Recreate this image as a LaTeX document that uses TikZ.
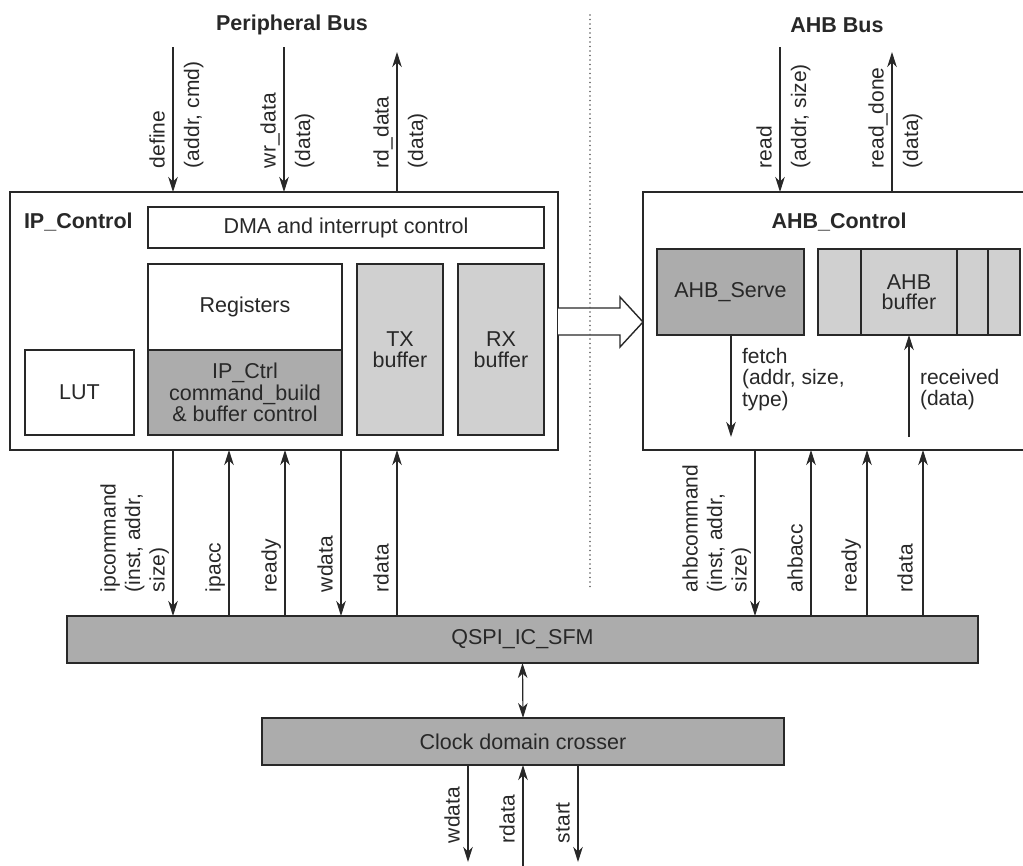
\documentclass[tikz,border=0pt]{standalone}
\usepackage{fontspec}
\setmainfont{Liberation Sans}
\usetikzlibrary{arrows.meta}
\definecolor{darkfill}{RGB}{172,172,172}
\definecolor{lightfill}{RGB}{208,208,208}
\definecolor{linecol}{RGB}{40,40,40}
\newcommand\myfs{\fontsize{21.5}{22.5}\selectfont}
\newcommand\rotfs{\fontsize{21}{24.5}\selectfont}
\newcommand\sigfs{\fontsize{21}{21.5}\selectfont}
\begin{document}
\begin{tikzpicture}[x=1pt,y=-1pt,
  every node/.style={inner sep=0pt, outer sep=0pt, font=\myfs, text=linecol},
  blk/.style={draw=linecol, line width=1.4pt, anchor=north west, align=center},
  darkblk/.style={blk, fill=darkfill},
  lightblk/.style={blk, fill=lightfill},
  tip/.tip={Stealth[length=15pt,width=9.5pt,inset=4.5pt]},
  sig/.style={line width=1.2pt, draw=linecol, -tip},
  sigboth/.style={line width=1.2pt, draw=linecol, tip-tip},
  lblL/.style={rotate=90, anchor=south west, align=left, font=\rotfs},
  lblR/.style={rotate=90, anchor=north west, align=left, font=\rotfs},
  ttl/.style={font=\myfs\bfseries},
  sub/.style={anchor=north west, align=left, font=\sigfs}
]
\useasboundingbox (0,0) rectangle (1023,865);
\fill[white] (0,0) rectangle (1023,865);

% titles
\node[ttl] (pbus) at (292,25) {Peripheral Bus};
\node[ttl] (abus) at (837,25) {AHB Bus};

% separator
\coordinate (sepT) at (590,15);
\coordinate (sepB) at (590,590);

% IP control block
\node[blk, minimum width=548, minimum height=258] (ip) at (10,192) {};
\node[ttl, anchor=west] (iptitle) at (24,222) {IP\_Control};
\node[blk, minimum width=396, minimum height=41] (dma) at (148,207) {DMA and interrupt control};
\node[blk, minimum width=194, minimum height=86] (reg) at (148,264) {Registers};
\node[darkblk, minimum width=194, minimum height=85] (ipctrl) at (148,350) {IP\_Ctrl\\[-1pt]command\_build\\[-1pt]\& buffer control};
\node[lightblk, minimum width=86, minimum height=171] (tx) at (357,264) {TX\\[-2pt]buffer};
\node[lightblk, minimum width=86, minimum height=171] (rx) at (458,264) {RX\\[-2pt]buffer};
\node[blk, minimum width=109, minimum height=85] (lut) at (25,350) {LUT};

% AHB control block (right side runs off the picture)
\node[anchor=north west, minimum width=380, minimum height=258] (ahb) at (643,192) {};
\draw[draw=linecol, line width=1.4pt] (ahb.north east) -- (ahb.north west) -- (ahb.south west) -- (ahb.south east);
\node[ttl] (ahbtitle) at (839,222) {AHB\_Control};
\node[darkblk, minimum width=147, minimum height=86] (serve) at (657,249) {AHB\_Serve};
\node[lightblk, minimum width=202, minimum height=86] (buf) at (818,249) {};
\coordinate (d1) at (861,0);
\coordinate (d2) at (957,0);
\coordinate (d3) at (988,0);
\foreach \d in {d1,d2,d3}
  \draw[draw=linecol, line width=1.4pt] (\d |- buf.north) -- (\d |- buf.south);
\node[align=center] (buftext) at (909,292) {AHB\\[-2pt]buffer};

% hollow arrow
\draw[draw=linecol, line width=1.4pt, fill=white]
  (ip.east |- 0,308) -- (620,308) -- (620,297) -- (ahb.west |- 0,322) -- (620,347) -- (620,335) -- (ip.east |- 0,335);

% separator drawn over arrow
\draw[linecol!75, line width=1.6pt, line cap=round, dash pattern=on 0pt off 4.5pt] (sepT) -- (sepB);

% QSPI and clock crosser
\node[darkblk, minimum width=911, minimum height=47] (qspi) at (67,616) {QSPI\_IC\_SFM};
\node[darkblk, minimum width=522, minimum height=47] (clk) at (262,718) {Clock domain crosser};

% Peripheral bus signals
\coordinate (xdef) at (173,47);
\coordinate (xwr) at (284,47);
\coordinate (xrd) at (397,52);
\draw[sig] (xdef) -- (xdef |- ip.north);
\draw[sig] (xwr) -- (xwr |- ip.north);
\draw[sig] (xrd |- ip.north) -- (xrd);
\node[lblL] (ldef) at (172,168) {define\strut};
\node[lblR] (ldef2) at (182,168) {(addr, cmd)\strut};
\node[lblL] (lwr) at (283,168) {wr\_data\strut};
\node[lblR] (lwr2) at (293,168) {(data)\strut};
\node[lblL] (lrd) at (396,168) {rd\_data\strut};
\node[lblR] (lrd2) at (406,168) {(data)\strut};

% AHB bus signals
\coordinate (xread) at (780,47);
\coordinate (xrdone) at (892,52);
\draw[sig] (xread) -- (xread |- ahb.north);
\draw[sig] (xrdone |- ahb.north) -- (xrdone);
\node[lblL] (lread) at (779,168) {read\strut};
\node[lblR] (lread2) at (789,168) {(addr, size)\strut};
\node[lblL] (lrdone) at (891,168) {read\_done\strut};
\node[lblR] (lrdone2) at (901,168) {(data)\strut};

% internal AHB signals
\coordinate (xfetch) at (731,437);
\coordinate (xrecv) at (909,437);
\draw[sig] (xfetch |- serve.south) -- (xfetch);
\draw[sig] (xrecv) -- (xrecv |- buf.south);
\node[sub] (lfetch) at (742,348) {fetch\\(addr, size,\\type)};
\node[sub] (lrecv) at (920,369) {received\\(data)};

% IP <-> QSPI signals
\coordinate (xipc) at (173,0);
\coordinate (xipacc) at (229,0);
\coordinate (xiprdy) at (285,0);
\coordinate (xipw) at (341,0);
\coordinate (xipr) at (397,0);
\draw[sig] (xipc |- ip.south) -- (xipc |- qspi.north);
\draw[sig] (xipacc |- qspi.north) -- (xipacc |- ip.south);
\draw[sig] (xiprdy |- qspi.north) -- (xiprdy |- ip.south);
\draw[sig] (xipw |- ip.south) -- (xipw |- qspi.north);
\draw[sig] (xipr |- qspi.north) -- (xipr |- ip.south);
\node[lblL] (lipc) at (172,592) {ipcommand\\(inst, addr,\\size)\strut};
\node[lblL] (lipacc) at (228,592) {ipacc\strut};
\node[lblL] (liprdy) at (284,592) {ready\strut};
\node[lblL] (lipw) at (340,592) {wdata\strut};
\node[lblL] (lipr) at (396,592) {rdata\strut};

% AHB <-> QSPI signals
\coordinate (xac) at (755,0);
\coordinate (xaacc) at (811,0);
\coordinate (xardy) at (867,0);
\coordinate (xar) at (923,0);
\draw[sig] (xac |- ahb.south) -- (xac |- qspi.north);
\draw[sig] (xaacc |- qspi.north) -- (xaacc |- ahb.south);
\draw[sig] (xardy |- qspi.north) -- (xardy |- ahb.south);
\draw[sig] (xar |- qspi.north) -- (xar |- ahb.south);
\node[lblL] (lac) at (754,592) {ahbcommand\\(inst, addr,\\size)\strut};
\node[lblL] (laacc) at (810,592) {ahbacc\strut};
\node[lblL] (lardy) at (864,592) {ready\strut};
\node[lblL] (lar) at (920,592) {rdata\strut};

% QSPI <-> clock crosser
\draw[sigboth] (qspi.south) -- (clk.north);

% bottom signals
\coordinate (bw) at (468,862);
\coordinate (br) at (523,866);
\coordinate (bs) at (578,862);
\draw[sig] (bw |- clk.south) -- (bw);
\draw[sig] (br) -- (br |- clk.south);
\draw[sig] (bs |- clk.south) -- (bs);
\node[lblL] (lbw) at (467,843) {wdata\strut};
\node[lblL] (lbr) at (522,843) {rdata\strut};
\node[lblL] (lbs) at (577,843) {start\strut};
\end{tikzpicture}
\end{document}
